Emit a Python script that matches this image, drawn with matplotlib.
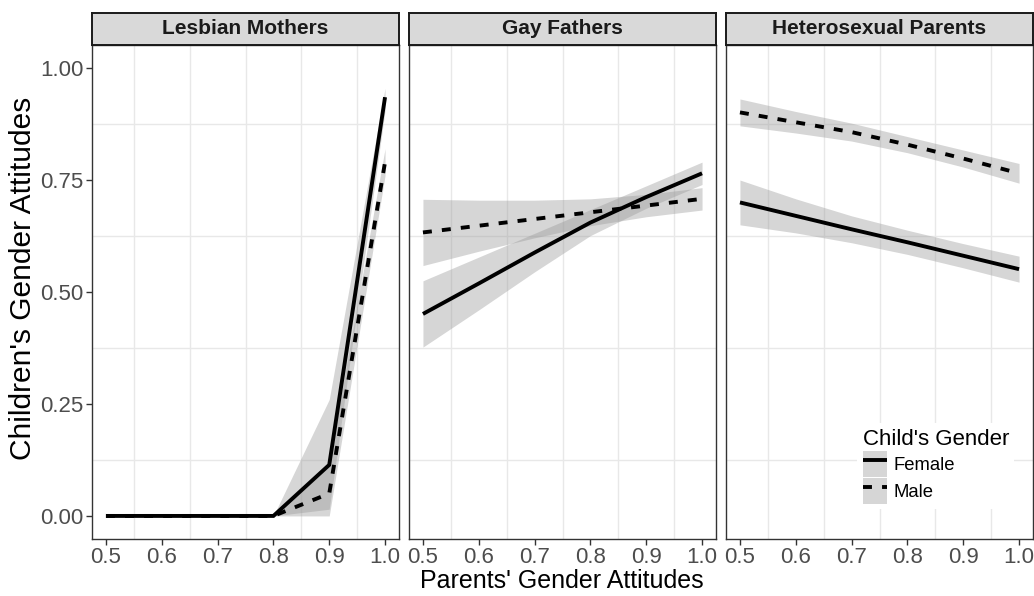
import matplotlib
matplotlib.use('Agg')
import matplotlib.pyplot as plt
from matplotlib.patches import Patch
from matplotlib.lines import Line2D
from matplotlib.legend_handler import HandlerTuple

plt.rcParams['font.family'] = ['Liberation Sans', 'DejaVu Sans']

# ---------------- data ----------------
panels = ['Lesbian Mothers', 'Gay Fathers', 'Heterosexual Parents']
x_vals = [0.5, 0.6, 0.7, 0.8, 0.9, 1.0]
x_ticks = [0.5, 0.6, 0.7, 0.8, 0.9, 1.0]
x_tick_labels = ['0.5', '0.6', '0.7', '0.8', '0.9', '1.0']
y_ticks = [0.00, 0.25, 0.50, 0.75, 1.00]
y_tick_labels = ['0.00', '0.25', '0.50', '0.75', '1.00']
genders = ['Female', 'Male']

# Lesbian Mothers
lm_female = [0.0, 0.0, 0.0, 0.0, 0.114, 0.935]
lm_female_lo = [0.0, 0.0, 0.0, 0.0, 0.015, 0.905]
lm_female_hi = [0.0, 0.0, 0.0, 0.0, 0.26, 0.955]
lm_male = [0.0, 0.0, 0.0, 0.0, 0.05, 0.79]
lm_male_lo = [0.0, 0.0, 0.0, 0.0, 0.0, 0.76]
lm_male_hi = [0.0, 0.0, 0.0, 0.0, 0.12, 0.82]

# Gay Fathers
gf_female = [0.451, 0.519, 0.588, 0.655, 0.712, 0.765]
gf_female_lo = [0.377, 0.460, 0.545, 0.626, 0.687, 0.740]
gf_female_hi = [0.525, 0.578, 0.631, 0.684, 0.737, 0.790]
gf_male = [0.633, 0.648, 0.663, 0.678, 0.693, 0.708]
gf_male_lo = [0.559, 0.591, 0.621, 0.648, 0.668, 0.683]
gf_male_hi = [0.707, 0.705, 0.705, 0.708, 0.718, 0.733]

# Heterosexual Parents
hp_female = [0.700, 0.670, 0.640, 0.611, 0.581, 0.551]
hp_female_lo = [0.650, 0.632, 0.610, 0.584, 0.554, 0.522]
hp_female_hi = [0.750, 0.708, 0.670, 0.638, 0.608, 0.580]
hp_male = [0.901, 0.879, 0.857, 0.829, 0.798, 0.765]
hp_male_lo = [0.871, 0.855, 0.837, 0.811, 0.779, 0.743]
hp_male_hi = [0.931, 0.903, 0.877, 0.847, 0.817, 0.787]

series = {
    'Lesbian Mothers': [(lm_female, lm_female_lo, lm_female_hi), (lm_male, lm_male_lo, lm_male_hi)],
    'Gay Fathers': [(gf_female, gf_female_lo, gf_female_hi), (gf_male, gf_male_lo, gf_male_hi)],
    'Heterosexual Parents': [(hp_female, hp_female_lo, hp_female_hi), (hp_male, hp_male_lo, hp_male_hi)],
}

# ---------------- layout ----------------
W, H = 1034, 596
fig = plt.figure(figsize=(W / 100, H / 100), dpi=100)
lefts = [92, 409, 726]
pw = 307
top, bottom, strip_top = 45, 539, 13

LW = 2.8
dash = (0, (2.3, 2.6))
ribbon_fc = '#999999'
ribbon_alpha = 0.4

axes = []
for i, name in enumerate(panels):
    l = lefts[i]
    ax = fig.add_axes([l / W, 1 - bottom / H, pw / W, (bottom - top) / H])
    axes.append(ax)
    (f, flo, fhi), (m, mlo, mhi) = series[name]
    ax.fill_between(x_vals, flo, fhi, color=ribbon_fc, alpha=ribbon_alpha, lw=0)
    ax.fill_between(x_vals, mlo, mhi, color=ribbon_fc, alpha=ribbon_alpha, lw=0)
    ax.plot(x_vals, f, color='black', lw=LW, solid_capstyle='butt', solid_joinstyle='miter')
    ax.plot(x_vals, m, color='black', lw=LW, linestyle=dash, dash_capstyle='butt')

    ax.set_xlim(0.475, 1.025)
    ax.set_ylim(-0.0515, 1.0515)
    ax.set_xticks(x_ticks)
    ax.set_xticklabels(x_tick_labels)
    ax.set_yticks(y_ticks)
    ax.set_yticklabels(y_tick_labels)
    ax.set_xticks([0.55, 0.65, 0.75, 0.85, 0.95], minor=True)
    ax.set_yticks([0.125, 0.375, 0.625, 0.875], minor=True)
    ax.grid(False, which='major')
    ax.grid(True, which='minor', color='#e8e8e8', lw=1.0)
    ax.set_axisbelow(True)
    ax.tick_params(which='minor', length=0)
    ax.tick_params(which='major', length=4, width=1, color='#333333',
                   labelsize=16, labelcolor='#4d4d4d', pad=2)
    if i > 0:
        ax.tick_params(left=False, labelleft=False)
    for sp in ax.spines.values():
        sp.set_color('#333333')
        sp.set_linewidth(1.0)

    sax = fig.add_axes([l / W, 1 - top / H, pw / W, (top - strip_top) / H])
    sax.set_facecolor('#d9d9d9')
    sax.set_xticks([])
    sax.set_yticks([])
    for sp in sax.spines.values():
        sp.set_color('#1a1a1a')
        sp.set_linewidth(1.4)
    sax.text(0.5, 0.5, name, ha='center', va='center', fontsize=15,
             fontweight='bold', color='#1a1a1a', transform=sax.transAxes)

fig.text(562 / W, 1 - 581 / H, "Parents' Gender Attitudes", ha='center', va='center', fontsize=18)
fig.text(23 / W, 1 - 278 / H, "Children's Gender Attitudes", ha='center', va='center',
         rotation=90, fontsize=21.5)

handles = [
    (Patch(facecolor='#d6d6d6', edgecolor='none'), Line2D([], [], color='black', lw=LW, solid_capstyle='butt')),
    (Patch(facecolor='#d6d6d6', edgecolor='none'), Line2D([], [], color='black', lw=LW, linestyle=dash, dash_capstyle='butt')),
]
leg = axes[2].legend(handles=handles, labels=genders,
                     handler_map={tuple: HandlerTuple(ndivide=1, pad=0)},
                     title="Child's Gender", loc='upper left',
                     bbox_to_anchor=(857 / W, 1 - 423 / H), bbox_transform=fig.transFigure,
                     frameon=True, fancybox=False, edgecolor='none', facecolor='white', framealpha=1,
                     fontsize=13.3, title_fontsize=16, handlelength=1.35, handleheight=1.75,
                     labelspacing=0.08, handletextpad=0.35, borderpad=0.3, borderaxespad=0,
                     alignment='left')

fig.savefig('out.png', dpi=100, facecolor='white')
